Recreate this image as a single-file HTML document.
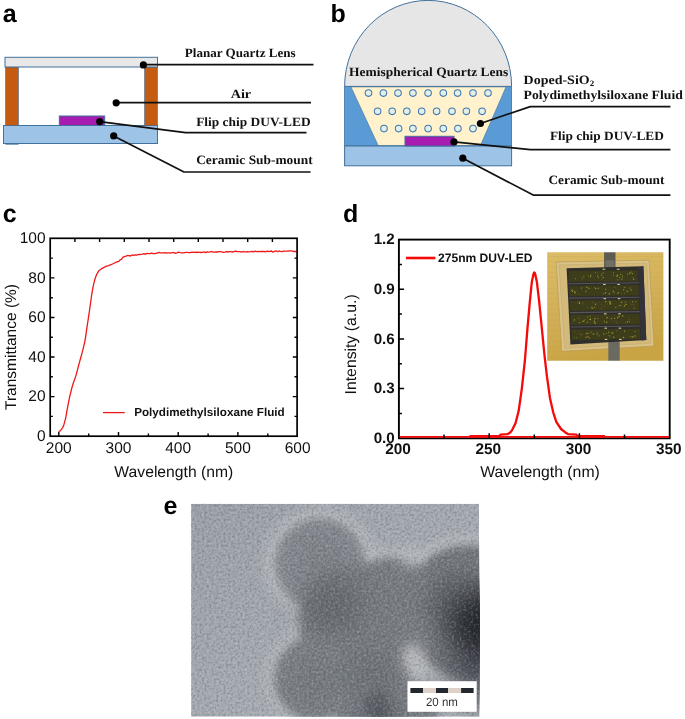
<!DOCTYPE html>
<html lang="en">
<head>
<meta charset="utf-8">
<title>Figure 1 - DUV-LED packaging</title>
<style>
  html, body { margin: 0; padding: 0; background: #ffffff; }
  body { width: 685px; height: 719px; overflow: hidden; }
  svg { display: block; will-change: transform; opacity: 0.999; }
  .lbl { font-family: "Liberation Sans", sans-serif; font-weight: bold; font-size: 25px; fill: #000; }
  text { text-rendering: geometricPrecision; }
  .ser { font-family: "Liberation Serif", serif; font-weight: bold; font-size: 12.7px; fill: #111; }
  .san { font-family: "Liberation Sans", sans-serif; fill: #111; }
  .lead { stroke: #111; stroke-width: 1.7; fill: none; stroke-linejoin: round; }
  .dot { fill: #000; }
</style>
</head>
<body>
<svg width="685" height="719" viewBox="0 0 685 719">
  <rect x="0" y="0" width="685" height="719" fill="#ffffff"/>

  <!-- ================= PANEL A ================= -->
  <g id="panel-a">
    <text class="lbl" x="2.7" y="22">a</text>
    <!-- sub-mount -->
    <rect x="3.5" y="125.5" width="154" height="18" fill="#9dc3e6" stroke="#41719c" stroke-width="1"/>
    <path d="M5.5,144.3 H18.5" stroke="#41719c" stroke-width="0.8"/>
    <!-- pillars -->
    <rect x="5.5" y="67" width="13" height="58.5" fill="#c55a11" stroke="#41719c" stroke-width="0.6"/>
    <rect x="144.5" y="67" width="13" height="58.5" fill="#c55a11" stroke="#41719c" stroke-width="0.6"/>
    <!-- planar lens -->
    <rect x="5" y="57.3" width="152.5" height="9.7" fill="#e8e8e8" stroke="#41719c" stroke-width="1"/>
    <!-- LED chip -->
    <rect x="59.3" y="116" width="45.4" height="9.5" fill="#a61cb0" stroke="#41719c" stroke-width="1"/>
    <!-- leader lines -->
    <polyline class="lead" points="143.5,64.6 313.5,64.6"/>
    <polyline class="lead" points="116.2,102.6 311,102.6"/>
    <polyline class="lead" points="99.7,121.6 185.5,132.6 306.5,132.6"/>
    <polyline class="lead" points="113.7,135.9 184,172 310.6,172"/>
    <circle class="dot" cx="143.4" cy="64.9" r="3.6"/>
    <circle class="dot" cx="116.2" cy="102.8" r="3.6"/>
    <circle class="dot" cx="99.7" cy="121.6" r="3.6"/>
    <circle class="dot" cx="113.7" cy="135.9" r="3.6"/>
    <text class="ser" x="184.8" y="56.8" textLength="110.8" lengthAdjust="spacingAndGlyphs">Planar Quartz Lens</text>
    <text class="ser" x="230.7" y="98.2" textLength="20.4" lengthAdjust="spacingAndGlyphs">Air</text>
    <text class="ser" x="196.2" y="126" textLength="114.4" lengthAdjust="spacingAndGlyphs">Flip chip DUV-LED</text>
    <text class="ser" x="196.2" y="164" textLength="116.5" lengthAdjust="spacingAndGlyphs">Ceramic Sub-mount</text>
  </g>

  <!-- ================= PANEL B ================= -->
  <g id="panel-b">
    <text class="lbl" x="330.5" y="22.1">b</text>
    <!-- housing -->
    <rect x="344.6" y="86.4" width="167" height="59.6" fill="#5b9bd5" stroke="#41719c" stroke-width="0.8"/>
    <!-- fluid cavity -->
    <polygon points="351,86.9 506,86.9 480.4,145.6 378.2,145.6" fill="#fff2cc" stroke="#41719c" stroke-width="0.6"/>
    <!-- sub-mount -->
    <rect x="344.6" y="146" width="167" height="19.8" fill="#9dc3e6" stroke="#41719c" stroke-width="1"/>
    <!-- dome lens -->
    <path d="M344.6,86.4 A83.5,86 0 0 1 511.6,86.4 Z" fill="#e7e6e6" stroke="#41719c" stroke-width="1"/>
    <!-- LED -->
    <rect x="405" y="136.3" width="49" height="9.7" fill="#a61cb0" stroke="#41719c" stroke-width="1"/>
    <!-- dopant particles -->
    <g fill="#e3efe8" stroke="#3f78b0" stroke-width="1.05">
      <circle cx="368.5" cy="93.1" r="3.3"/><circle cx="383.4" cy="93.1" r="3.3"/><circle cx="398" cy="93.1" r="3.3"/>
      <circle cx="412.9" cy="93.1" r="3.3"/><circle cx="428.1" cy="93.1" r="3.3"/><circle cx="443.3" cy="93.1" r="3.3"/>
      <circle cx="457.6" cy="93.1" r="3.3"/><circle cx="473" cy="93.1" r="3.3"/><circle cx="488" cy="93.1" r="3.3"/>
      <circle cx="377.6" cy="111.3" r="3.3"/><circle cx="392.2" cy="111.3" r="3.3"/><circle cx="406.8" cy="111.3" r="3.3"/>
      <circle cx="421.7" cy="111.3" r="3.3"/><circle cx="436.6" cy="111.3" r="3.3"/><circle cx="452" cy="111.3" r="3.3"/>
      <circle cx="466.4" cy="111.3" r="3.3"/><circle cx="482.1" cy="111.3" r="3.3"/>
      <circle cx="384" cy="128.6" r="3.3"/><circle cx="398.6" cy="128.6" r="3.3"/><circle cx="412.9" cy="128.6" r="3.3"/>
      <circle cx="428.1" cy="128.6" r="3.3"/><circle cx="443.3" cy="128.6" r="3.3"/><circle cx="457.9" cy="128.6" r="3.3"/>
      <circle cx="473" cy="128.6" r="3.3"/>
    </g>
    <text class="ser" x="349.1" y="75.8" textLength="159.2" lengthAdjust="spacingAndGlyphs">Hemispherical Quartz Lens</text>
    <!-- leaders -->
    <polyline class="lead" points="480.4,123.5 530.3,106.6 670.4,106.6"/>
    <polyline class="lead" points="454,141.9 530.3,149.6 670.4,149.6"/>
    <polyline class="lead" points="462.8,158.2 533.2,195.1 670.4,195.1"/>
    <circle class="dot" cx="480.4" cy="123.5" r="3.6"/>
    <circle class="dot" cx="454" cy="141.9" r="3.6"/>
    <circle class="dot" cx="462.8" cy="158.2" r="3.6"/>
    <text class="ser" x="523.6" y="83.6" textLength="70.6" lengthAdjust="spacingAndGlyphs">Doped-SiO<tspan font-size="8.2" dy="2.4">2</tspan></text>
    <text class="ser" x="523.6" y="98.8" textLength="159.2" lengthAdjust="spacingAndGlyphs">Polydimethylsiloxane Fluid</text>
    <text class="ser" x="549.9" y="139.6" textLength="114.0" lengthAdjust="spacingAndGlyphs">Flip chip DUV-LED</text>
    <text class="ser" x="548.4" y="184.3" textLength="116.1" lengthAdjust="spacingAndGlyphs">Ceramic Sub-mount</text>
  </g>

  <!-- ================= PANEL C ================= -->
  <g id="panel-c">
    <text class="lbl" x="2.8" y="221.6">c</text>
    <path d="M58.8,436.2 v-4.3 M118.5,436.2 v-4.3 M178.2,436.2 v-4.3 M237.9,436.2 v-4.3 M88.7,436.2 v-2.6 M148.4,436.2 v-2.6 M208.1,436.2 v-2.6 M267.8,436.2 v-2.6 M74.9,238.3 v3.6 M99.6,238.3 v3.6 M124.3,238.3 v3.6 M149.0,238.3 v3.6 M173.7,238.3 v3.6 M198.3,238.3 v3.6 M223.0,238.3 v3.6 M247.7,238.3 v3.6 M272.4,238.3 v3.6 M50.2,416.4 h2.6 M297.1,416.4 h-2.6 M50.2,396.6 h4.3 M297.1,396.6 h-4.3 M50.2,376.8 h2.6 M297.1,376.8 h-2.6 M50.2,357.0 h4.3 M297.1,357.0 h-4.3 M50.2,337.2 h2.6 M297.1,337.2 h-2.6 M50.2,317.5 h4.3 M297.1,317.5 h-4.3 M50.2,297.7 h2.6 M297.1,297.7 h-2.6 M50.2,277.9 h4.3 M297.1,277.9 h-4.3 M50.2,258.1 h2.6 M297.1,258.1 h-2.6" stroke="#000" stroke-width="1.4" fill="none"/>
    <path d="M58.6,431.7 L59.6,431.2 L60.6,430.4 L61.6,429.2 L62.6,427.6 L63.6,425.6 L64.6,422.1 L65.6,418.3 L66.6,412.8 L67.6,407.2 L68.6,402.1 L69.6,397.2 L70.6,392.8 L71.6,389.0 L72.6,385.1 L73.6,382.2 L74.6,379.4 L75.6,376.6 L76.6,373.1 L77.6,369.3 L78.6,365.5 L79.6,361.8 L80.6,358.3 L81.6,354.6 L82.6,350.9 L83.6,346.8 L84.6,342.6 L85.6,337.1 L86.6,329.8 L87.6,323.1 L88.6,316.7 L89.6,309.8 L90.6,302.5 L91.6,295.5 L92.6,289.4 L93.6,284.4 L94.6,280.3 L95.6,277.2 L96.6,274.6 L97.6,272.8 L98.6,271.1 L99.6,270.3 L100.6,269.5 L101.6,268.6 L102.6,268.1 L103.6,267.6 L104.6,267.1 L105.6,266.7 L106.6,266.2 L107.6,265.9 L108.6,265.6 L109.6,265.2 L110.6,264.8 L111.6,264.4 L112.6,264.0 L113.6,263.4 L114.6,263.0 L115.6,262.4 L116.6,262.1 L117.6,261.6 L118.6,261.4 L119.6,260.7 L120.0,259.9 L121.5,259.3 L123.0,257.1 L124.5,256.6 L126.0,256.2 L127.5,255.5 L129.0,255.7 L130.5,256.0 L132.0,254.9 L133.5,255.3 L135.0,254.8 L136.5,255.1 L138.0,254.6 L139.5,254.5 L141.0,254.4 L142.5,254.2 L144.0,253.6 L145.5,254.3 L147.0,253.3 L148.5,253.7 L150.0,253.7 L151.5,253.2 L153.0,253.5 L154.5,253.7 L156.0,253.3 L157.5,253.0 L159.0,252.3 L160.5,252.9 L162.0,252.9 L163.5,252.9 L165.0,252.7 L166.5,253.1 L168.0,252.8 L169.5,252.8 L171.0,253.0 L172.5,252.5 L174.0,252.6 L175.5,253.3 L177.0,252.9 L178.5,252.2 L180.0,252.6 L181.5,252.8 L183.0,252.9 L184.5,252.6 L186.0,252.3 L187.5,252.3 L189.0,252.6 L190.5,252.5 L192.0,252.2 L193.5,252.3 L195.0,252.2 L196.5,252.5 L198.0,252.1 L199.5,252.4 L201.0,252.5 L202.5,252.4 L204.0,251.9 L205.5,252.6 L207.0,251.9 L208.5,252.2 L210.0,251.9 L211.5,251.5 L213.0,252.1 L214.5,252.1 L216.0,251.9 L217.5,252.0 L219.0,251.7 L220.5,251.7 L222.0,251.8 L223.5,252.4 L225.0,252.1 L226.5,251.7 L228.0,252.0 L229.5,251.7 L231.0,251.7 L232.5,252.0 L234.0,251.6 L235.5,251.2 L237.0,251.5 L238.5,251.7 L240.0,251.7 L241.5,252.1 L243.0,251.5 L244.5,251.9 L246.0,251.8 L247.5,251.6 L249.0,251.9 L250.5,251.7 L252.0,251.3 L253.5,251.9 L255.0,251.2 L256.5,251.6 L258.0,251.5 L259.5,251.6 L261.0,251.3 L262.5,251.5 L264.0,251.4 L265.5,251.8 L267.0,251.2 L268.5,251.5 L270.0,251.3 L271.5,251.0 L273.0,252.2 L274.5,251.4 L276.0,250.9 L277.5,251.8 L279.0,251.0 L280.5,251.4 L282.0,251.6 L283.5,251.1 L285.0,251.2 L286.5,251.1 L288.0,251.2 L289.5,250.8 L291.0,250.9 L292.5,251.2 L294.0,251.5 L295.5,251.4 L297.0,251.7" stroke="#f01818" stroke-width="1.3" fill="none" stroke-linejoin="round"/>
    <rect x="50.2" y="238.3" width="246.9" height="197.9" fill="none" stroke="#000" stroke-width="1.7"/>
    <text class="san" font-size="15.5" text-anchor="end" x="45.6" y="440.9">0</text>
    <text class="san" font-size="15.5" text-anchor="end" x="45.6" y="401.3">20</text>
    <text class="san" font-size="15.5" text-anchor="end" x="45.6" y="361.7">40</text>
    <text class="san" font-size="15.5" text-anchor="end" x="45.6" y="322.2">60</text>
    <text class="san" font-size="15.5" text-anchor="end" x="45.6" y="282.6">80</text>
    <text class="san" font-size="15.5" text-anchor="end" x="45.6" y="243.0">100</text>
    <text class="san" font-size="15.5" text-anchor="middle" x="58.8" y="453.3">200</text>
    <text class="san" font-size="15.5" text-anchor="middle" x="118.5" y="453.3">300</text>
    <text class="san" font-size="15.5" text-anchor="middle" x="178.2" y="453.3">400</text>
    <text class="san" font-size="15.5" text-anchor="middle" x="237.9" y="453.3">500</text>
    <text class="san" font-size="15.5" text-anchor="middle" x="297.6" y="453.3">600</text>
    <text class="san" font-size="15.7" text-anchor="middle" x="173.8" y="477">Wavelength (nm)</text>
    <text class="san" font-size="15.5" text-anchor="middle" transform="translate(16.4,347) rotate(-90)">Transmittance (%)</text>
    <path d="M103,412.6 H124.8" stroke="#f01818" stroke-width="1.3"/>
    <text class="san" font-size="11.6" font-weight="bold" x="134.2" y="416.4" textLength="150.5" lengthAdjust="spacingAndGlyphs">Polydimethylsiloxane Fluid</text>
  </g>
  <!-- ================= PANEL D ================= -->
  <g id="panel-d">
    <text class="lbl" x="342.9" y="222.3">d</text>
    <rect x="398.9" y="239.6" width="270.8" height="198.7" fill="none" stroke="#000" stroke-width="1.9"/>
    <path d="M399.8,436.9 H669" stroke="#f40a0a" stroke-width="1.6" fill="none"/>
    <path d="M469.5,436.3 H500 M578,436.3 H605" stroke="#f40a0a" stroke-width="2.4" fill="none"/>
    <path d="M499.3,436.3 L500.5,434.7 L507.5,434.2 L510.2,432.6 L512.4,429.6 L515.5,423.3 L518.7,410.8 L521.8,388.8 L524.9,360.5 L527.4,329.2 L529.6,304.1 L531.8,282.1 L533.7,273.3 L534.3,272.4 L535.0,273.3 L536.9,282.1 L539.1,300.9 L541.6,326.0 L544.4,354.3 L546.9,376.2 L550.0,398.2 L553.2,412.3 L556.3,421.8 L561.0,429.0 L565.7,432.7 L568,434.1 L576.3,434.6 L577.7,436.3" stroke="#f40a0a" stroke-width="2.3" fill="none" stroke-linejoin="round"/>
    <path d="M444.0,438.3 v-3.8 M489.2,438.3 v-5.0 M534.3,438.3 v-3.8 M579.4,438.3 v-5.0 M624.5,438.3 v-3.8 M398.9,413.5 h3 M398.9,388.6 h5.2 M398.9,363.8 h3 M398.9,338.9 h5.2 M398.9,314.1 h3 M398.9,289.3 h5.2 M398.9,264.4 h3" stroke="#000" stroke-width="1.5" fill="none"/>
    <text class="san" font-size="15.2" font-weight="bold" text-anchor="end" x="394.8" y="442.9">0.0</text>
    <text class="san" font-size="15.2" font-weight="bold" text-anchor="end" x="394.8" y="393.2">0.3</text>
    <text class="san" font-size="15.2" font-weight="bold" text-anchor="end" x="394.8" y="343.5">0.6</text>
    <text class="san" font-size="15.2" font-weight="bold" text-anchor="end" x="394.8" y="293.9">0.9</text>
    <text class="san" font-size="15.2" font-weight="bold" text-anchor="end" x="394.8" y="243.7">1.2</text>
    <text class="san" font-size="15.4" font-weight="bold" text-anchor="middle" x="398.0" y="454.1">200</text>
    <text class="san" font-size="15.4" font-weight="bold" text-anchor="middle" x="488.3" y="454.1">250</text>
    <text class="san" font-size="15.4" font-weight="bold" text-anchor="middle" x="578.5" y="454.1">300</text>
    <text class="san" font-size="15.4" font-weight="bold" text-anchor="middle" x="668.8" y="454.1">350</text>
    <text class="san" font-size="15.8" text-anchor="middle" x="540" y="477">Wavelength (nm)</text>
    <text class="san" font-size="15.8" text-anchor="middle" transform="translate(355.8,344.4) rotate(-90)">Intensity (a.u.)</text>
    <path d="M406,258 H435.4" stroke="#f40a0a" stroke-width="2.6"/>
    <text class="san" font-size="12.3" font-weight="bold" x="438" y="262.1" textLength="94.6" lengthAdjust="spacingAndGlyphs">275nm DUV-LED</text>
    <!-- inset micrograph of the LED chip -->
    <defs>
      <linearGradient id="gold" x1="0" y1="0" x2="0.25" y2="1"><stop offset="0" stop-color="#dcbc66"/><stop offset="0.5" stop-color="#d3b15a"/><stop offset="1" stop-color="#c9a444"/></linearGradient>
      <clipPath id="insetclip"><rect x="547.2" y="252.2" width="116.2" height="108.6"/></clipPath>
      <filter id="soft" x="-5%" y="-5%" width="110%" height="110%"><feGaussianBlur stdDeviation="0.45"/></filter>
    </defs>
    <g clip-path="url(#insetclip)"><g filter="url(#soft)">
      <rect x="545.2" y="250.2" width="120.2" height="112.6" fill="url(#gold)"/>
      <path d="M547.2,256.4 H663.4" stroke="#c4a04a" stroke-width="0.5" opacity="0.5"/>
      <path d="M547.2,261.7 H663.4" stroke="#c4a04a" stroke-width="0.5" opacity="0.5"/>
      <path d="M547.2,267.0 H663.4" stroke="#c4a04a" stroke-width="0.5" opacity="0.5"/>
      <path d="M547.2,272.3 H663.4" stroke="#c4a04a" stroke-width="0.5" opacity="0.5"/>
      <path d="M547.2,277.6 H663.4" stroke="#c4a04a" stroke-width="0.5" opacity="0.5"/>
      <path d="M547.2,283.0 H663.4" stroke="#c4a04a" stroke-width="0.5" opacity="0.5"/>
      <path d="M547.2,288.3 H663.4" stroke="#c4a04a" stroke-width="0.5" opacity="0.5"/>
      <path d="M547.2,293.6 H663.4" stroke="#c4a04a" stroke-width="0.5" opacity="0.5"/>
      <path d="M547.2,298.9 H663.4" stroke="#c4a04a" stroke-width="0.5" opacity="0.5"/>
      <path d="M547.2,304.2 H663.4" stroke="#c4a04a" stroke-width="0.5" opacity="0.5"/>
      <path d="M547.2,309.5 H663.4" stroke="#c4a04a" stroke-width="0.5" opacity="0.5"/>
      <path d="M547.2,314.8 H663.4" stroke="#c4a04a" stroke-width="0.5" opacity="0.5"/>
      <path d="M547.2,320.2 H663.4" stroke="#c4a04a" stroke-width="0.5" opacity="0.5"/>
      <path d="M547.2,325.5 H663.4" stroke="#c4a04a" stroke-width="0.5" opacity="0.5"/>
      <path d="M547.2,330.8 H663.4" stroke="#c4a04a" stroke-width="0.5" opacity="0.5"/>
      <path d="M547.2,336.1 H663.4" stroke="#c4a04a" stroke-width="0.5" opacity="0.5"/>
      <path d="M547.2,341.4 H663.4" stroke="#c4a04a" stroke-width="0.5" opacity="0.5"/>
      <path d="M547.2,346.7 H663.4" stroke="#c4a04a" stroke-width="0.5" opacity="0.5"/>
      <path d="M547.2,352.0 H663.4" stroke="#c4a04a" stroke-width="0.5" opacity="0.5"/>
      <path d="M547.2,357.4 H663.4" stroke="#c4a04a" stroke-width="0.5" opacity="0.5"/>
      <polygon points="556.1,262.1 649.1,260.2 653.9,346.0 561.8,351.3" fill="#d9c388" stroke="#b89a55" stroke-width="0.7"/>
      <polygon points="559.0,264.9 646.7,263.0 651.0,343.3 564.7,348.4" fill="#d3b97a" stroke="#bfa468" stroke-width="0.5"/>
      <polygon points="604.1,250.7 615.5,250.7 615.5,268.7 604.1,268.7" fill="#5c5c52"/>
      <polygon points="605.5,260.2 614.4,260.2 614.4,268.7 605.5,268.7" fill="#6f6f62"/>
      <polygon points="608.3,340.8 619.7,340.8 619.7,361.7 608.3,361.7" fill="#6a6a60"/>
      <polygon points="566.6,268.2 643.4,266.3 646.3,339.9 570.4,344.6" fill="#2f2e2a"/>
      <polygon points="568.5,271.0 637.7,270.2 638.1,281.2 568.8,282.0" fill="#3d3c1c"/>
      <polygon points="569.2,285.8 638.3,285.0 638.7,295.5 569.6,296.2" fill="#3d3c1c"/>
      <polygon points="570.0,300.4 638.9,299.7 639.3,310.1 570.4,310.9" fill="#3d3c1c"/>
      <polygon points="570.7,314.7 639.4,313.9 639.8,324.3 571.1,325.1" fill="#3d3c1c"/>
      <polygon points="571.5,329.5 640.0,328.7 640.4,339.1 571.9,339.9" fill="#3d3c1c"/>
      <path d="M568.5,283.7 L640.6,282.8" stroke="#55545a" stroke-width="1.1"/>
      <path d="M569.2,298.1 L640.6,297.2" stroke="#55545a" stroke-width="1.1"/>
      <path d="M570.0,312.6 L640.6,311.6" stroke="#55545a" stroke-width="1.1"/>
      <path d="M570.7,327.0 L640.6,326.0" stroke="#55545a" stroke-width="1.1"/>
      <polygon points="638.3,267.4 643.4,266.3 646.3,339.9 641.0,340.5" fill="#33323a"/>
      <rect x="602.6" y="268.7" width="2.6" height="1.1" fill="#d8c890"/>
      <rect x="616.9" y="268.7" width="2.6" height="1.1" fill="#d8c890"/>
      <rect x="603.1" y="283.9" width="2.6" height="1.1" fill="#d8c890"/>
      <rect x="617.3" y="283.9" width="2.6" height="1.1" fill="#d8c890"/>
      <rect x="603.5" y="298.1" width="2.6" height="1.1" fill="#d8c890"/>
      <rect x="617.7" y="298.1" width="2.6" height="1.1" fill="#d8c890"/>
      <rect x="604.0" y="313.3" width="2.6" height="1.1" fill="#d8c890"/>
      <rect x="618.2" y="313.3" width="2.6" height="1.1" fill="#d8c890"/>
      <rect x="604.4" y="327.6" width="2.6" height="1.1" fill="#d8c890"/>
      <rect x="618.6" y="327.6" width="2.6" height="1.1" fill="#d8c890"/>
      <rect x="604.7" y="338.9" width="2.6" height="1.1" fill="#d8c890"/>
      <rect x="619.0" y="338.9" width="2.6" height="1.1" fill="#d8c890"/>
      <g fill="#a9a233" opacity="0.9"><circle cx="575.4" cy="278.7" r="0.53"/><circle cx="617.7" cy="279.8" r="0.57"/><circle cx="603.2" cy="272.7" r="0.46"/><circle cx="603.1" cy="277.5" r="0.67"/><circle cx="595.3" cy="272.7" r="0.47"/><circle cx="629.9" cy="273.5" r="0.53"/><circle cx="631.3" cy="272.0" r="0.59"/><circle cx="632.6" cy="273.6" r="0.57"/><circle cx="629.9" cy="272.9" r="0.56"/><circle cx="619.5" cy="277.3" r="0.54"/><circle cx="583.8" cy="276.3" r="0.50"/><circle cx="601.6" cy="275.1" r="0.69"/><circle cx="620.7" cy="274.4" r="0.58"/><circle cx="588.4" cy="275.9" r="0.49"/><circle cx="613.4" cy="275.0" r="0.53"/><circle cx="617.5" cy="275.3" r="0.71"/><circle cx="582.2" cy="278.3" r="0.52"/><circle cx="598.3" cy="277.2" r="0.56"/><circle cx="597.5" cy="272.2" r="0.39"/><circle cx="616.8" cy="276.2" r="0.63"/><circle cx="632.9" cy="277.3" r="0.37"/><circle cx="590.6" cy="277.0" r="0.44"/><circle cx="633.6" cy="279.3" r="0.69"/><circle cx="601.3" cy="278.9" r="0.40"/><circle cx="590.6" cy="276.0" r="0.65"/><circle cx="602.2" cy="273.2" r="0.49"/><circle cx="591.6" cy="274.7" r="0.42"/><circle cx="597.5" cy="275.8" r="0.66"/><circle cx="622.5" cy="276.1" r="0.53"/><circle cx="621.3" cy="279.0" r="0.62"/><circle cx="622.8" cy="279.4" r="0.37"/><circle cx="627.7" cy="274.1" r="0.54"/><circle cx="622.5" cy="277.6" r="0.41"/><circle cx="613.5" cy="272.6" r="0.49"/><circle cx="623.7" cy="289.9" r="0.59"/><circle cx="618.3" cy="292.9" r="0.65"/><circle cx="571.6" cy="290.4" r="0.54"/><circle cx="574.7" cy="291.3" r="0.59"/><circle cx="624.7" cy="293.7" r="0.40"/><circle cx="586.0" cy="292.0" r="0.40"/><circle cx="585.6" cy="291.4" r="0.42"/><circle cx="621.7" cy="293.1" r="0.36"/><circle cx="605.6" cy="292.8" r="0.74"/><circle cx="588.9" cy="288.3" r="0.70"/><circle cx="630.0" cy="288.1" r="0.53"/><circle cx="617.7" cy="293.0" r="0.42"/><circle cx="614.2" cy="292.8" r="0.57"/><circle cx="581.8" cy="287.4" r="0.46"/><circle cx="623.4" cy="287.0" r="0.35"/><circle cx="594.5" cy="287.5" r="0.41"/><circle cx="572.6" cy="291.2" r="0.63"/><circle cx="598.8" cy="288.0" r="0.48"/><circle cx="609.3" cy="293.8" r="0.75"/><circle cx="586.8" cy="287.2" r="0.68"/><circle cx="631.1" cy="290.0" r="0.66"/><circle cx="627.2" cy="291.2" r="0.70"/><circle cx="572.7" cy="289.3" r="0.46"/><circle cx="578.9" cy="293.9" r="0.36"/><circle cx="614.7" cy="287.3" r="0.49"/><circle cx="598.2" cy="288.3" r="0.56"/><circle cx="605.7" cy="289.3" r="0.64"/><circle cx="581.5" cy="288.6" r="0.49"/><circle cx="595.6" cy="288.5" r="0.72"/><circle cx="624.7" cy="287.5" r="0.50"/><circle cx="586.2" cy="290.5" r="0.46"/><circle cx="603.6" cy="293.8" r="0.50"/><circle cx="613.2" cy="291.2" r="0.65"/><circle cx="575.1" cy="292.8" r="0.73"/><circle cx="610.5" cy="303.6" r="0.62"/><circle cx="617.4" cy="306.3" r="0.41"/><circle cx="634.1" cy="308.3" r="0.52"/><circle cx="609.9" cy="301.8" r="0.75"/><circle cx="624.3" cy="306.0" r="0.65"/><circle cx="583.9" cy="304.0" r="0.45"/><circle cx="610.0" cy="302.2" r="0.71"/><circle cx="601.5" cy="304.9" r="0.39"/><circle cx="615.7" cy="307.5" r="0.60"/><circle cx="587.4" cy="307.5" r="0.41"/><circle cx="624.8" cy="305.6" r="0.47"/><circle cx="604.7" cy="306.2" r="0.45"/><circle cx="626.1" cy="304.4" r="0.71"/><circle cx="625.3" cy="302.0" r="0.61"/><circle cx="591.7" cy="307.3" r="0.57"/><circle cx="601.2" cy="308.2" r="0.37"/><circle cx="607.5" cy="303.9" r="0.36"/><circle cx="620.1" cy="305.5" r="0.71"/><circle cx="610.1" cy="304.0" r="0.74"/><circle cx="579.3" cy="302.2" r="0.64"/><circle cx="595.6" cy="304.3" r="0.70"/><circle cx="592.8" cy="308.2" r="0.61"/><circle cx="592.9" cy="302.1" r="0.45"/><circle cx="633.8" cy="304.2" r="0.41"/><circle cx="590.9" cy="308.3" r="0.42"/><circle cx="621.6" cy="302.3" r="0.73"/><circle cx="605.8" cy="301.8" r="0.72"/><circle cx="594.8" cy="307.1" r="0.56"/><circle cx="577.8" cy="302.6" r="0.41"/><circle cx="582.2" cy="302.2" r="0.37"/><circle cx="632.5" cy="301.9" r="0.55"/><circle cx="579.5" cy="303.4" r="0.66"/><circle cx="631.9" cy="304.7" r="0.35"/><circle cx="635.8" cy="301.5" r="0.51"/><circle cx="606.7" cy="322.3" r="0.68"/><circle cx="611.2" cy="318.6" r="0.68"/><circle cx="627.6" cy="322.0" r="0.64"/><circle cx="578.8" cy="318.3" r="0.54"/><circle cx="604.6" cy="321.9" r="0.45"/><circle cx="614.6" cy="318.4" r="0.66"/><circle cx="585.0" cy="319.5" r="0.39"/><circle cx="586.0" cy="322.9" r="0.48"/><circle cx="629.1" cy="319.4" r="0.37"/><circle cx="622.8" cy="316.0" r="0.68"/><circle cx="573.2" cy="321.1" r="0.42"/><circle cx="594.3" cy="322.9" r="0.54"/><circle cx="614.2" cy="321.1" r="0.39"/><circle cx="625.7" cy="322.3" r="0.41"/><circle cx="607.2" cy="317.8" r="0.65"/><circle cx="574.4" cy="319.9" r="0.67"/><circle cx="619.1" cy="316.4" r="0.68"/><circle cx="587.7" cy="321.9" r="0.55"/><circle cx="582.8" cy="321.4" r="0.67"/><circle cx="616.8" cy="322.8" r="0.45"/><circle cx="587.5" cy="317.0" r="0.57"/><circle cx="597.9" cy="318.5" r="0.53"/><circle cx="590.0" cy="316.0" r="0.54"/><circle cx="590.1" cy="319.3" r="0.72"/><circle cx="584.0" cy="320.7" r="0.61"/><circle cx="590.4" cy="319.4" r="0.74"/><circle cx="594.3" cy="321.2" r="0.69"/><circle cx="595.4" cy="323.2" r="0.60"/><circle cx="604.3" cy="321.1" r="0.52"/><circle cx="617.7" cy="317.7" r="0.72"/><circle cx="606.9" cy="317.5" r="0.52"/><circle cx="629.2" cy="321.5" r="0.54"/><circle cx="594.9" cy="318.7" r="0.74"/><circle cx="579.7" cy="322.6" r="0.69"/><circle cx="587.4" cy="333.3" r="0.58"/><circle cx="623.5" cy="337.4" r="0.75"/><circle cx="591.0" cy="332.1" r="0.55"/><circle cx="608.2" cy="335.4" r="0.39"/><circle cx="613.8" cy="337.3" r="0.72"/><circle cx="632.3" cy="337.1" r="0.73"/><circle cx="576.4" cy="337.7" r="0.46"/><circle cx="593.4" cy="334.1" r="0.73"/><circle cx="611.2" cy="333.1" r="0.50"/><circle cx="629.9" cy="336.4" r="0.41"/><circle cx="588.9" cy="333.5" r="0.44"/><circle cx="608.6" cy="332.2" r="0.58"/><circle cx="631.8" cy="336.6" r="0.39"/><circle cx="586.3" cy="333.8" r="0.61"/><circle cx="597.5" cy="332.5" r="0.49"/><circle cx="586.1" cy="337.2" r="0.63"/><circle cx="599.1" cy="335.8" r="0.56"/><circle cx="606.3" cy="333.3" r="0.55"/><circle cx="634.9" cy="336.0" r="0.68"/><circle cx="581.2" cy="334.6" r="0.50"/><circle cx="579.0" cy="333.8" r="0.38"/><circle cx="588.0" cy="336.7" r="0.62"/><circle cx="617.0" cy="331.0" r="0.42"/><circle cx="574.8" cy="331.6" r="0.39"/><circle cx="633.4" cy="336.9" r="0.43"/><circle cx="589.3" cy="337.9" r="0.58"/><circle cx="596.4" cy="334.1" r="0.46"/><circle cx="609.8" cy="335.9" r="0.56"/><circle cx="624.6" cy="331.2" r="0.59"/><circle cx="635.2" cy="331.3" r="0.55"/><circle cx="612.7" cy="333.0" r="0.74"/><circle cx="603.7" cy="334.1" r="0.71"/><circle cx="574.4" cy="337.3" r="0.40"/><circle cx="597.1" cy="334.3" r="0.54"/></g>
    </g></g>
  </g>
  <!-- ================= PANEL E ================= -->
  <g id="panel-e">
    <text class="lbl" x="163.4" y="513.7">e</text>
    <defs>
      <clipPath id="temclip"><rect x="191.1" y="503.8" width="288.0" height="212.9"/></clipPath>
      <linearGradient id="tembg" x1="0" y1="0" x2="1" y2="1"><stop offset="0" stop-color="#9ba1a9"/><stop offset="0.45" stop-color="#a4a9b0"/><stop offset="1" stop-color="#aeb3b9"/></linearGradient>
      <filter id="b3" x="-20%" y="-20%" width="140%" height="140%"><feGaussianBlur stdDeviation="4.2"/></filter>
      <filter id="b6" x="-30%" y="-30%" width="160%" height="160%"><feGaussianBlur stdDeviation="7"/></filter>
      <filter id="b12" x="-40%" y="-40%" width="180%" height="180%"><feGaussianBlur stdDeviation="13"/></filter>
      <filter id="grainD" x="0" y="0" width="100%" height="100%" color-interpolation-filters="sRGB"><feTurbulence type="fractalNoise" baseFrequency="0.42" numOctaves="3" seed="4"/><feColorMatrix type="matrix" values="0 0 0 0 0.15  0 0 0 0 0.15  0 0 0 0 0.17  -3 0 0 0 1.5"/></filter>
      <filter id="grainL" x="0" y="0" width="100%" height="100%" color-interpolation-filters="sRGB"><feTurbulence type="fractalNoise" baseFrequency="0.42" numOctaves="3" seed="4"/><feColorMatrix type="matrix" values="0 0 0 0 0.92  0 0 0 0 0.92  0 0 0 0 0.94  3 0 0 0 -1.5"/></filter>
    </defs>
    <g clip-path="url(#temclip)">
      <rect x="191.1" y="503.8" width="288.0" height="212.9" fill="url(#tembg)"/>
      <g filter="url(#b6)" fill="#c0c2c6" opacity="0.95">
        <circle cx="319.9" cy="563.3" r="53.4"/>
        <circle cx="360.2" cy="625.0" r="66.6"/>
        <circle cx="316.4" cy="677.6" r="49.1"/>
        <circle cx="373.3" cy="673.2" r="42.9"/>
        <circle cx="467.5" cy="611.0" r="72.7"/>
        <circle cx="379.9" cy="712.6" r="27.2"/>
        <circle cx="391.7" cy="606.2" r="55.2"/>
      </g>
      <g filter="url(#b3)">
        <circle cx="319.9" cy="563.3" r="45.6" fill="#868a91"/>
        <circle cx="358.0" cy="622.8" r="59.1" fill="#7a7e84"/>
        <circle cx="316.4" cy="678.5" r="42.9" fill="#7d8187"/>
        <circle cx="373.3" cy="673.2" r="37.2" fill="#777b81"/>
        <circle cx="468.8" cy="611.0" r="66.6" fill="#74787e"/>
        <circle cx="379.9" cy="713.5" r="21.9" fill="#62666c"/>
        <circle cx="391.7" cy="606.2" r="49.1" fill="#787c82"/>
        <circle cx="412.8" cy="707.4" r="26.3" fill="#7b7f85"/>
        <circle cx="353.2" cy="715.7" r="14.9" fill="#787c82"/>
        <circle cx="417.2" cy="629.4" r="17.5" fill="#7a7e84"/>
      </g>
      <g filter="url(#b6)">
        <ellipse cx="413.6" cy="659.2" rx="11" ry="16" fill="#b7b9bc" opacity="1" transform="rotate(-10 413.6 659.2)"/>
        <ellipse cx="410.6" cy="557.1" rx="10" ry="9" fill="#b6b9bd" opacity="0.9"/>
      </g>
      <g filter="url(#b12)">
        <circle cx="331.7" cy="605.3" r="30.7" fill="#62666c" opacity="0.8"/>
        <circle cx="320.8" cy="559.3" r="24.1" fill="#757980" opacity="0.5"/>
        <circle cx="316.4" cy="682.0" r="24.1" fill="#6c7076" opacity="0.5"/>
        <circle cx="373.3" cy="673.2" r="21.9" fill="#65696f" opacity="0.6"/>
        <circle cx="458.8" cy="607.5" r="30.7" fill="#4f5359" opacity="0.75"/>
        <circle cx="491.6" cy="629.4" r="41.6" fill="#22252b" opacity="0.95"/>
        <circle cx="465.3" cy="673.2" r="24.1" fill="#50545a" opacity="0.6"/>
        <circle cx="479.3" cy="690.7" r="19.7" fill="#43474d" opacity="0.7"/>
        <circle cx="382.1" cy="717.0" r="15.3" fill="#474b51" opacity="0.8"/>
      </g>
      <rect x="191.1" y="503.8" width="288.0" height="212.9" filter="url(#grainD)" opacity="0.22"/>
      <rect x="191.1" y="503.8" width="288.0" height="212.9" filter="url(#grainL)" opacity="0.22"/>
    </g>
    <rect x="407.5" y="681.2" width="69.2" height="30.6" fill="#ffffff"/>
    <rect x="410.4" y="688" width="12.6" height="5" fill="#23272e"/>
    <rect x="423.0" y="688" width="13.0" height="5" fill="#ddd1c9"/>
    <rect x="436.0" y="688" width="12.2" height="5" fill="#23272e"/>
    <rect x="448.2" y="688" width="12.9" height="5" fill="#ddd1c9"/>
    <rect x="461.1" y="688" width="12.5" height="5" fill="#23272e"/>
    <text class="san" font-size="12" text-anchor="middle" x="441.9" y="706.1" textLength="32" lengthAdjust="spacingAndGlyphs" style="fill:#333">20 nm</text>
  </g>
</svg>
</body>
</html>
